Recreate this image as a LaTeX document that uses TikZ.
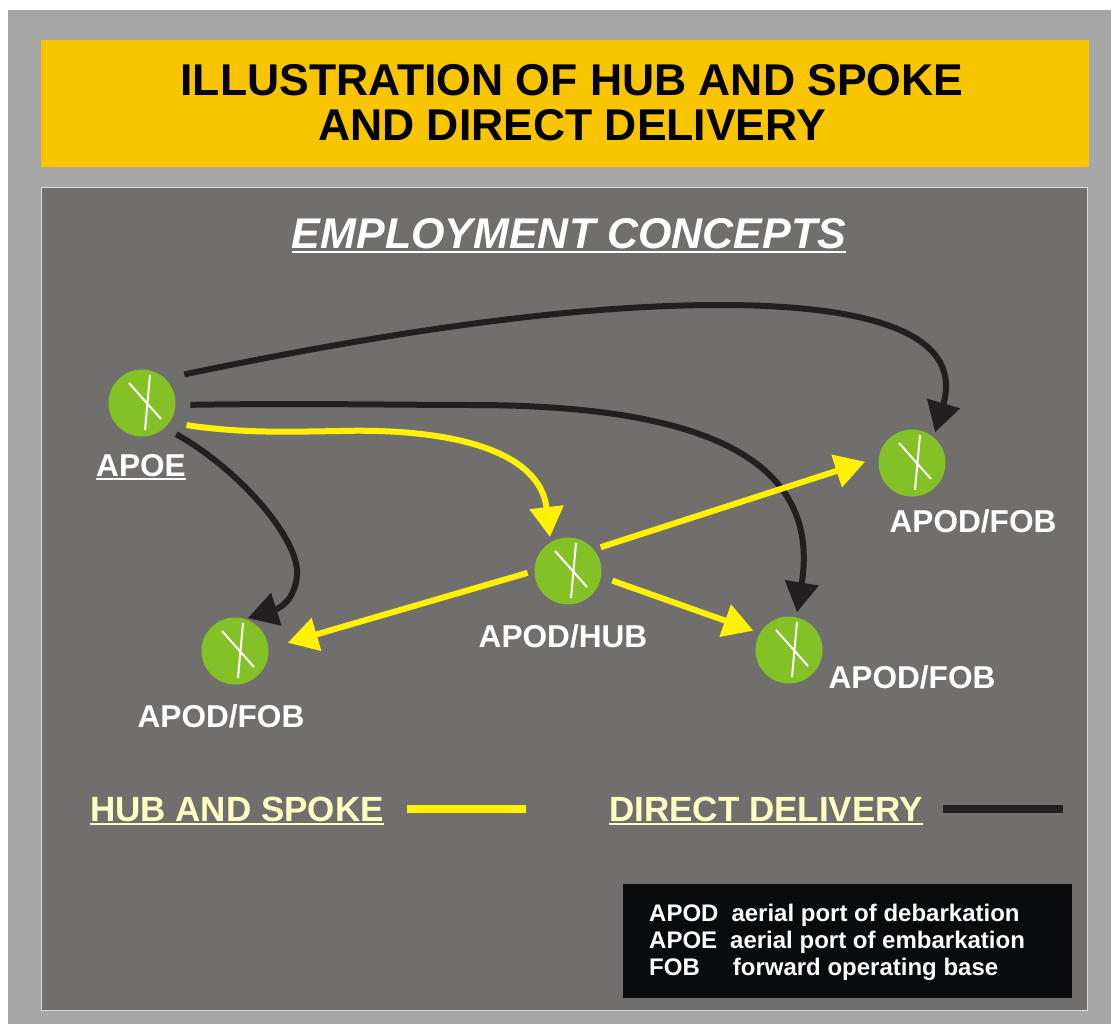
\documentclass[tikz,border=0pt]{standalone}
\usepackage{fontspec}
\setmainfont{Liberation Sans}
\usetikzlibrary{arrows.meta}
\definecolor{panelgray}{HTML}{706F6D}
\definecolor{framegray}{HTML}{A6A6A6}
\definecolor{titlegold}{HTML}{F9C400}
\definecolor{portgreen}{HTML}{83C127}
\definecolor{hubyellow}{HTML}{FFF200}
\definecolor{directblack}{HTML}{231F20}
\definecolor{keycream}{HTML}{FFFFC4}
\definecolor{keyblack}{HTML}{0A0B0D}
\newcommand{\ruledtext}[2][2pt]{\vtop{\hbox{#2}\kern1.5pt\hrule height #1}}
\tikzset{
  port/.style={circle,fill=portgreen,minimum size=67pt,inner sep=0pt,outer sep=5pt},
  portlabel/.style={text=white,font=\bfseries\fontsize{31.6}{33}\selectfont,inner sep=0pt,anchor=base},
  keytext/.style={text=white,font=\bfseries\fontsize{24}{26}\selectfont,inner sep=0pt,anchor=base west},
  legendtext/.style={text=keycream,font=\bfseries\fontsize{35}{37}\selectfont,inner sep=0pt,anchor=base west},
  hubline/.style={hubyellow,line width=6pt,-{Triangle[length=30pt,width=33pt]}},
  directline/.style={directblack,line width=6pt,-{Triangle[length=30pt,width=33pt]}}
}

\begin{document}
\begin{tikzpicture}[x=1pt,y=-1pt]
\useasboundingbox (0,0) rectangle (1111,1024);
\fill [framegray] (8,10) rectangle (1111,1024);
\fill [titlegold] (41,40) rectangle (1089,167);
\draw [white!85!black,fill=panelgray,line width=1pt] (41,188) rectangle (1087,1010);
\fill [keyblack] (623,884) rectangle (1072,998);

\node [font=\bfseries\fontsize{44.5}{45}\selectfont,align=center,inner sep=0pt] (title) at (572,103) {ILLUSTRATION OF HUB AND SPOKE\\AND DIRECT DELIVERY};
\node [text=white,font=\bfseries\itshape\fontsize{43}{45}\selectfont,inner sep=0pt,anchor=base] (concepts) at (569,249) {\ruledtext[2.5pt]{EMPLOYMENT CONCEPTS}};

\node [port] (apoe) at (142,403) {};
\node [port] (fobr) at (912,463) {};
\node [port] (hub) at (568,571) {};
\node [port] (fobl) at (235,651) {};
\node [port] (fobm) at (789,650) {};
\foreach \n in {apoe,fobr,hub,fobl,fobm} {
  \draw [white,line width=2pt] ([shift={(-13,-20)}]\n.center) -- ([shift={(19,16)}]\n.center);
  \draw [white,line width=2pt] ([shift={(8,-28)}]\n.center) -- ([shift={(3,27)}]\n.center);
}

\node [portlabel] (apoelabel) at (141,476) {\ruledtext{APOE}};
\node [portlabel] (fobrlabel) at (973,532) {APOD/FOB};
\node [portlabel] (hublabel) at (563,647) {APOD/HUB};
\node [portlabel] (fobllabel) at (221,727) {APOD/FOB};
\node [portlabel] (fobmlabel) at (912,688) {APOD/FOB};

\draw [directline,shorten <=14pt] (apoe.42) .. controls (350,340) and (550,305) .. (720,305) .. controls (860,305) and (965,330) .. (fobr.53);
\draw [directline,shorten <=10pt] (apoe.-3) .. controls (300,403) and (400,405) .. (470,405) .. controls (660,405) and (825,440) .. (fobm.78);
\draw [hubline,shorten <=12pt] (apoe.-32) .. controls (240,433) and (280,432) .. (340,431) .. controls (450,428) and (540,450) .. (hub.118);
\draw [directline,shorten <=8pt,shorten >=-5pt] (apoe.-45) .. controls (240,470) and (300,540) .. (297,575) .. controls (295,600) and (280,608) .. (fobl.63);
\draw [hubline,shorten <=2pt,shorten >=9pt] (hub.37) -- (fobr.174);
\draw [hubline,shorten <=2pt,shorten >=15pt] (hub.182) -- (fobl.6);
\draw [hubline,shorten <=7pt,shorten >=2pt] (hub.-11) -- (fobm.151);

\node [legendtext] (hubkey) at (90,821) {\ruledtext{HUB AND SPOKE}};
\node [legendtext] (directkey) at (609,821) {\ruledtext{DIRECT DELIVERY}};
\coordinate (hubkeyend) at (526,809);
\coordinate (directkeyend) at (1063,809);
\draw [hubyellow,line width=8pt] ([xshift=23pt]hubkey.east |- hubkeyend) -- (hubkeyend);
\draw [directblack,line width=8pt] ([xshift=20pt]directkey.east |- directkeyend) -- (directkeyend);

\node [keytext] (apodkey) at (649,921) {APOD\hspace{13pt}aerial port of debarkation};
\node [keytext] (apoekey) at (649,948) {APOE\hspace{13pt}aerial port of embarkation};
\node [keytext] (fobkey) at (649,975) {FOB\hspace{33pt}forward operating base};
\end{tikzpicture}
\end{document}
